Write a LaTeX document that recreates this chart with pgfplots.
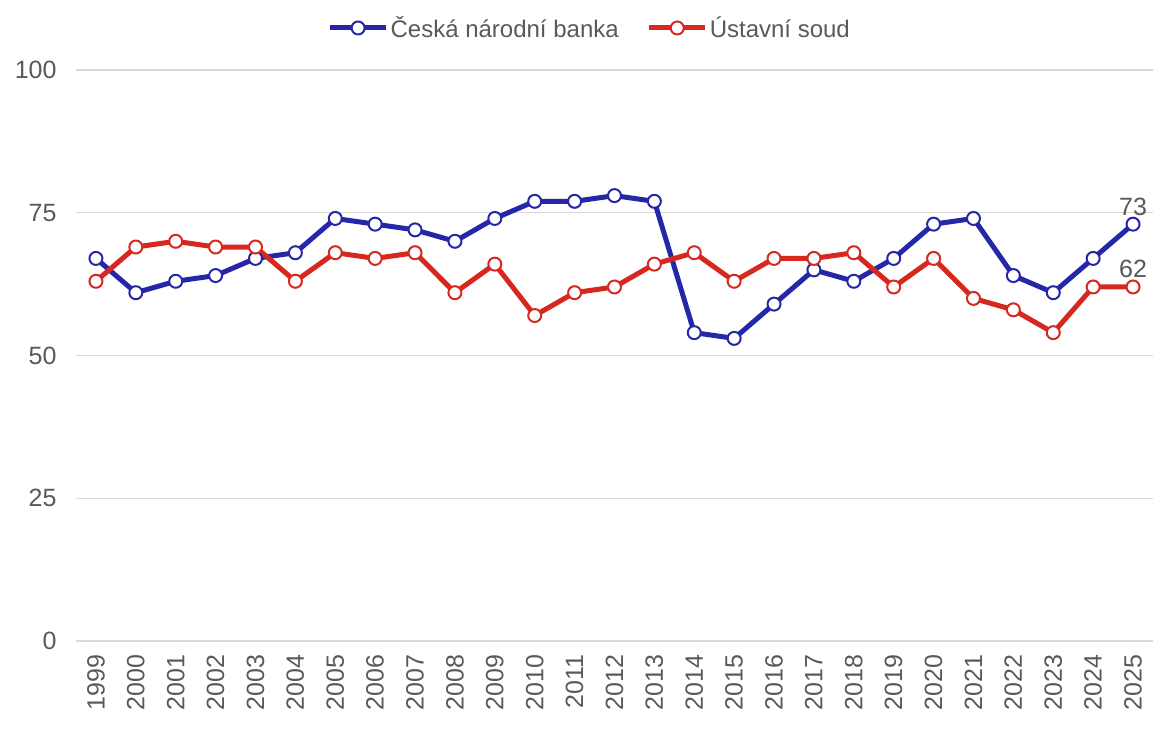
\documentclass[border=0pt]{standalone}
\usepackage{fontspec}
\setmainfont{Liberation Sans}
\usepackage{pgfplots}
\pgfplotsset{compat=1.18}
\definecolor{cnb}{RGB}{38,38,168}
\definecolor{us}{RGB}{214,40,30}
\definecolor{gridc}{RGB}{217,217,217}
\definecolor{txt}{RGB}{89,89,89}
\begin{document}
\begin{tikzpicture}[x=1pt,y=1pt]
\useasboundingbox (-76,-87) rectangle (1093,641);
\begin{axis}[
  at={(0,0)}, anchor=south west,
  scale only axis, width=1077pt, height=571pt,
  xmin=1998.5, xmax=2025.5, ymin=0, ymax=100,
  axis line style={draw=none},
  ytick={0,25,50,75,100},
  xtick={1999,...,2025},
  ymajorgrids, grid style={gridc, line width=1.3pt},
  major tick length=0pt,
  x tick label style={rotate=90, anchor=east, xshift=-10pt, /pgf/number format/1000 sep={}},
  yticklabel style={xshift=-16pt},
  ticklabel style={font=\fontsize{25}{29}\selectfont, text=txt},
  /pgf/number format/assume math mode=true,
  /pgf/number format/1000 sep={},
  legend style={at={(0.477,1.0736)}, anchor=center, draw=none, fill=none,
    font=\fontsize{24}{28}\selectfont, text=txt, legend columns=2,
    /tikz/every even column/.append style={column sep=26pt}},
  legend image code/.code={
    \draw[#1, mark=none] (0pt,0pt) -- (56pt,0pt);
    \draw[#1, only marks] plot coordinates {(28pt,0pt)};},
  every axis plot/.append style={line width=5pt, mark=*, mark size=6.5pt},
  clip=false,
]
\addplot[cnb, mark options={draw=cnb, fill=white, line width=2pt}] coordinates {
(1999,67)(2000,61)(2001,63)(2002,64)(2003,67)(2004,68)(2005,74)(2006,73)(2007,72)
(2008,70)(2009,74)(2010,77)(2011,77)(2012,78)(2013,77)(2014,54)(2015,53)(2016,59)
(2017,65)(2018,63)(2019,67)(2020,73)(2021,74)(2022,64)(2023,61)(2024,67)(2025,73)};
\addlegendentry{Česká národní banka}
\addplot[us, mark options={draw=us, fill=white, line width=2pt}] coordinates {
(1999,63)(2000,69)(2001,70)(2002,69)(2003,69)(2004,63)(2005,68)(2006,67)(2007,68)
(2008,61)(2009,66)(2010,57)(2011,61)(2012,62)(2013,66)(2014,68)(2015,63)(2016,67)
(2017,67)(2018,68)(2019,62)(2020,67)(2021,60)(2022,58)(2023,54)(2024,62)(2025,62)};
\addlegendentry{Ústavní soud}
\addplot[draw=none, mark=none, nodes near coords, forget plot,
  every node near coord/.style={font=\fontsize{25}{29}\selectfont, text=txt, anchor=south, yshift=3pt}]
  coordinates {(2025,73)(2025,62)};
\end{axis}
\end{tikzpicture}
\end{document}
